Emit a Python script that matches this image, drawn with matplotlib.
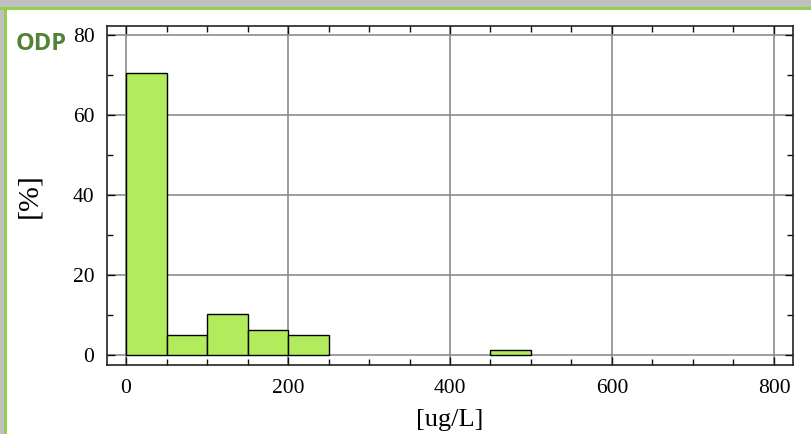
import matplotlib
matplotlib.use("Agg")
import matplotlib.pyplot as plt
from matplotlib.patches import Rectangle
from matplotlib.ticker import MultipleLocator

# Histogram of ODP concentration, bins of 50 ug/L
bin_edges = [0, 50, 100, 150, 200, 250, 300, 350, 400, 450, 500]
percent = [70.6, 5.1, 10.2, 6.3, 5.1, 0, 0, 0, 0, 1.3]
x_ticks = [0, 200, 400, 600, 800]
y_ticks = [0, 20, 40, 60, 80]

W, H = 812, 434
fig = plt.figure(figsize=(W / 100, H / 100), dpi=100)
fig.patch.set_facecolor("white")

# panel frame: grey strip plus green rule along top and left
fig.patches.append(Rectangle((0, 1 - 7 / H), 1, 7 / H, transform=fig.transFigure,
                             facecolor="#c0c0c0", edgecolor="none", zorder=0))
fig.patches.append(Rectangle((0, 0), 4 / W, 1, transform=fig.transFigure,
                             facecolor="#c0c0c0", edgecolor="none", zorder=0))
fig.patches.append(Rectangle((0, 1 - 9.5 / H), 1, 2.5 / H, transform=fig.transFigure,
                             facecolor="#92d050", edgecolor="none", zorder=1))
fig.patches.append(Rectangle((4 / W, 0), 2.5 / W, 1 - 7 / H, transform=fig.transFigure,
                             facecolor="#92d050", edgecolor="none", zorder=1))

ax = fig.add_axes([107 / W, (H - 365) / H, (793 - 107) / W, (365 - 26) / H])

widths = [b - a for a, b in zip(bin_edges[:-1], bin_edges[1:])]
for left, w, v in zip(bin_edges[:-1], widths, percent):
    if v > 0:
        ax.bar(left, v, width=w, align="edge", color="#b2ec5d",
               edgecolor="black", linewidth=1.0, zorder=3)

ax.set_xlim(-23.5, 823.5)
ax.set_ylim(-2.5, 82.3)
ax.set_xticks(x_ticks)
ax.set_yticks(y_ticks)
ax.xaxis.set_minor_locator(MultipleLocator(50))
ax.yaxis.set_minor_locator(MultipleLocator(10))
ax.grid(True, which="major", color="#8c8c8c", linewidth=1.2, zorder=1)
ax.set_axisbelow(True)

ax.tick_params(which="both", direction="in", top=True, right=True,
               color="#111111", width=1.0)
ax.tick_params(which="major", length=6)
ax.tick_params(which="minor", length=4)
ax.tick_params(axis="x", labelsize=15.5, pad=10)
ax.tick_params(axis="y", labelsize=15.5, pad=9)
for lab in ax.get_xticklabels() + ax.get_yticklabels():
    lab.set_family("Liberation Serif")
for sp in ax.spines.values():
    sp.set_color("#222222")
    sp.set_linewidth(1.2)

ax.set_xlabel("[ug/L]", family="Liberation Serif", fontsize=19, labelpad=8)
ax.set_ylabel("[%]", family="Liberation Serif", fontsize=21.5, labelpad=22)

fig.text(16 / W, 1 - 50 / H, "ODP", family="Open Sans", fontweight="bold",
         fontsize=17, color="#548235")

fig.savefig("out.png", dpi=100, facecolor="white")
